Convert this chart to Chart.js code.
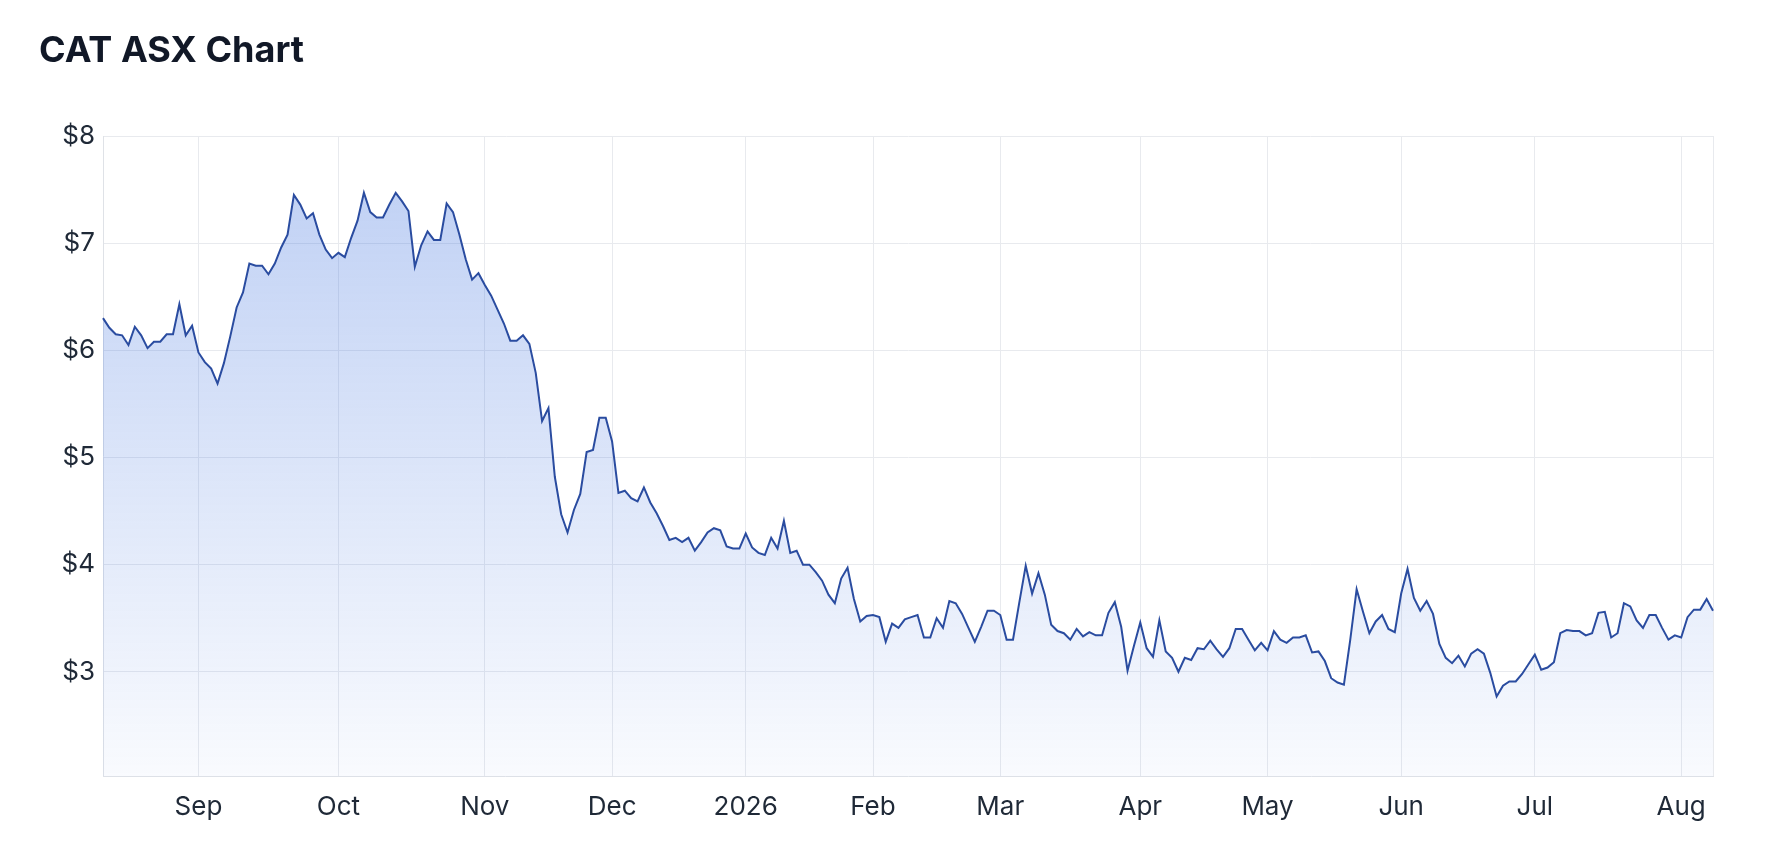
<!doctype html>
<html lang="en">
<head>
<meta charset="utf-8">
<title>CAT ASX Chart</title>
<style>
  * { margin: 0; padding: 0; }
  body { width: 1768px; height: 860px; background: #fff; overflow: hidden; font-family: Inter, "Noto Sans", sans-serif; }
  .chartBox { position: absolute; left: 0; top: 0; width: 1768px; height: 860px; }
  .chartTitle { position: absolute; left: 39px; top: 27px; font-size: 36px; font-weight: 700; color: #111827; }
</style>
</head>
<body>
<div class="chartBox"><canvas id="myChart"></canvas></div>
<h2 class="chartTitle">CAT ASX Chart</h2>
<script src="https://cdn.jsdelivr.net/npm/chart.js/dist/chart.umd.min.js"></script>
<script>
// trading days start here; weekends and these ASX holidays are skipped
const startDate = '2025-08-11';
const holidays = ['2025-12-25', '2025-12-26', '2026-01-01', '2026-01-26', '2026-04-03', '2026-04-06', '2026-06-08'];
const monthLabels = ['Jan', 'Feb', 'Mar', 'Apr', 'May', 'Jun', 'Jul', 'Aug', 'Sep', 'Oct', 'Nov', 'Dec'];
const yTicks = [3, 4, 5, 6, 7, 8];

// closing prices, one per trading day
const prices = [
  6.30, 6.21, 6.15, 6.14, 6.05, 6.22, 6.14, 6.02, 6.08, 6.08,
  6.15, 6.15, 6.43, 6.14, 6.23, 5.98, 5.89, 5.83, 5.69, 5.88,
  6.13, 6.40, 6.54, 6.81, 6.79, 6.79, 6.71, 6.81, 6.96, 7.08,
  7.45, 7.36, 7.23, 7.28, 7.08, 6.94, 6.86, 6.91, 6.87, 7.05,
  7.21, 7.47, 7.29, 7.24, 7.24, 7.36, 7.47, 7.39, 7.30, 6.78,
  6.98, 7.11, 7.03, 7.03, 7.37, 7.29, 7.08, 6.85, 6.66, 6.72,
  6.61, 6.51, 6.38, 6.25, 6.09, 6.09, 6.14, 6.06, 5.79, 5.34,
  5.46, 4.82, 4.47, 4.30, 4.51, 4.66, 5.05, 5.07, 5.37, 5.37,
  5.15, 4.67, 4.69, 4.62, 4.59, 4.72, 4.58, 4.48, 4.36, 4.23,
  4.25, 4.21, 4.25, 4.13, 4.21, 4.30, 4.34, 4.32, 4.17, 4.15,
  4.15, 4.29, 4.16, 4.11, 4.09, 4.25, 4.15, 4.41, 4.11, 4.13,
  4.00, 4.00, 3.93, 3.85, 3.72, 3.64, 3.87, 3.97, 3.68, 3.47,
  3.52, 3.53, 3.51, 3.28, 3.45, 3.41, 3.49, 3.51, 3.53, 3.32,
  3.32, 3.50, 3.41, 3.66, 3.64, 3.54, 3.41, 3.28, 3.42, 3.57,
  3.57, 3.53, 3.30, 3.30, 3.65, 3.99, 3.73, 3.92, 3.72, 3.44,
  3.38, 3.36, 3.30, 3.40, 3.33, 3.37, 3.34, 3.34, 3.55, 3.65,
  3.42, 3.01, 3.24, 3.46, 3.22, 3.14, 3.48, 3.19, 3.13, 3.00,
  3.13, 3.11, 3.22, 3.21, 3.29, 3.21, 3.14, 3.22, 3.40, 3.40,
  3.30, 3.20, 3.27, 3.20, 3.38, 3.30, 3.27, 3.32, 3.32, 3.34,
  3.18, 3.19, 3.10, 2.94, 2.90, 2.88, 3.30, 3.77, 3.56, 3.36,
  3.47, 3.53, 3.40, 3.37, 3.73, 3.96, 3.69, 3.57, 3.66, 3.54,
  3.26, 3.13, 3.08, 3.15, 3.05, 3.17, 3.21, 3.17, 2.99, 2.77,
  2.87, 2.91, 2.91, 2.98, 3.07, 3.16, 3.02, 3.04, 3.09, 3.36,
  3.39, 3.38, 3.38, 3.34, 3.36, 3.55, 3.56, 3.32, 3.36, 3.64,
  3.61, 3.48, 3.41, 3.53, 3.53, 3.41, 3.30, 3.34, 3.32, 3.51,
  3.58, 3.58, 3.68, 3.57
];

// build the trading calendar
const dates = [];
let d = new Date(startDate + 'T00:00:00Z');
while (dates.length < prices.length) {
  const iso = d.toISOString().slice(0, 10);
  const wd = d.getUTCDay();
  if (wd !== 0 && wd !== 6 && !holidays.includes(iso)) dates.push(iso);
  d.setUTCDate(d.getUTCDate() + 1);
}
const lastIdx = dates.length - 1;
const monthStarts = [];
for (let i = 1; i < dates.length; i++) {
  if (dates[i].slice(5, 7) !== dates[i - 1].slice(5, 7)) monthStarts.push(i);
}

const tickFont = { family: 'Inter, "Noto Sans", sans-serif', size: 26 };
const tickColor = '#1f2937';
const gridColor = '#e8eaee';

const data = {
  labels: dates,
  datasets: [{
    label: 'CAT',
    data: prices,
    borderColor: '#2a4ca0',
    borderWidth: 2,
    pointRadius: 0,
    pointHoverRadius: 0,
    tension: 0,
    fill: 'start',
    backgroundColor: (context) => {
      const { ctx, chartArea } = context.chart;
      if (!chartArea) return 'rgba(66,114,220,0.2)';
      const g = ctx.createLinearGradient(0, chartArea.top, 0, chartArea.bottom);
      g.addColorStop(0, 'rgba(60,112,222,0.34)');
      g.addColorStop(1, 'rgba(60,112,222,0.03)');
      return g;
    }
  }]
};

const config = {
  type: 'line',
  data,
  options: {
    responsive: true,
    maintainAspectRatio: false,
    animation: false,
    layout: { padding: { top: 136, right: 55, bottom: 22, left: 0 } },
    plugins: {
      legend: { display: false },
      tooltip: { enabled: false }
    },
    scales: {
      x: {
        type: 'category',
        offset: false,
        grid: { color: gridColor, drawTicks: false },
        border: { color: '#dfe2e7' },
        afterBuildTicks: (scale) => {
          scale.ticks = scale.ticks.filter(t => monthStarts.includes(t.value) || t.value === lastIdx);
        },
        ticks: {
          autoSkip: false,
          maxRotation: 0,
          padding: 15,
          font: tickFont,
          color: tickColor,
          callback: function (value) {
            if (value === lastIdx) return '';
            const m = parseInt(dates[value].slice(5, 7), 10);
            return m === 1 ? dates[value].slice(0, 4) : monthLabels[m - 1];
          }
        }
      },
      y: {
        min: 2.02,
        max: 8,
        grid: { color: gridColor, drawTicks: false },
        border: { color: '#dfe2e7' },
        afterBuildTicks: (scale) => {
          scale.ticks = yTicks.map(v => ({ value: v }));
        },
        afterFit: (scale) => { scale.width = 103; },
        ticks: {
          padding: 8,
          font: tickFont,
          color: tickColor,
          callback: (v) => '$' + v
        }
      }
    }
  }
};

const myChart = new Chart(document.getElementById('myChart'), config);
</script>
</body>
</html>
